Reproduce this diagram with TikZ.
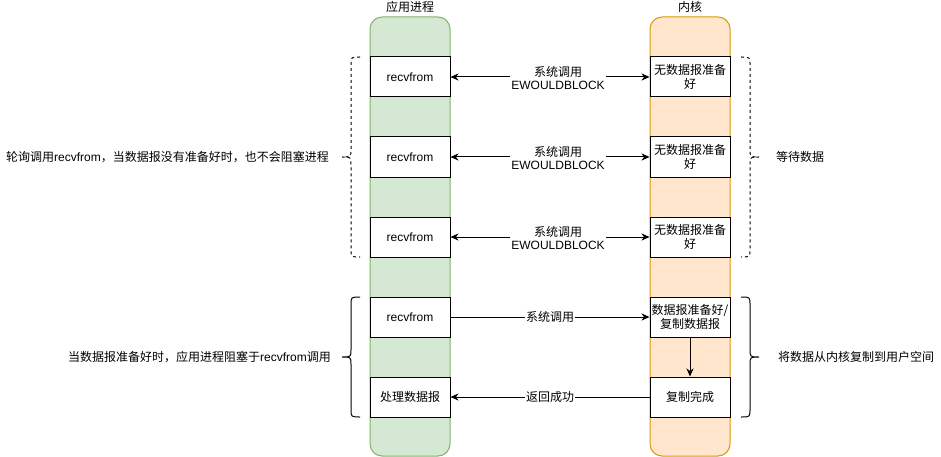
\documentclass[tikz,border=0pt]{standalone}
\usepackage{fontspec}
\setmainfont{Liberation Sans}
\newfontfamily\cjk{Noto Sans CJK SC}
\newcommand\zh[1]{{\cjk #1}}
\usetikzlibrary{arrows.meta}
\definecolor{gfill}{HTML}{D5E8D4}
\definecolor{gline}{HTML}{82B366}
\definecolor{ofill}{HTML}{FFE6CC}
\definecolor{oline}{HTML}{D79B00}
\begin{document}
\begin{tikzpicture}[x=1pt,y=-1pt, font=\fontsize{12}{14}\selectfont,
  col/.style={draw, rounded corners=12pt, minimum width=80pt, minimum height=439pt, line width=1pt, inner sep=0pt},
  box/.style={draw, fill=white, minimum width=80pt, minimum height=40pt, inner sep=1pt, align=center, line width=1pt, font=\fontsize{12}{14}\selectfont},
  arr/.style={-{Stealth[length=8pt,width=7pt,inset=2.5pt]}, line width=1pt},
  darr/.style={{Stealth[length=8pt,width=7pt,inset=2.5pt]}-{Stealth[length=8pt,width=7pt,inset=2.5pt]}, line width=1pt},
  lbl/.style={fill=white, inner sep=1pt, align=center, font=\fontsize{12}{13.5}\selectfont},
  brace/.style={line width=1pt},
  side/.style={inner sep=0pt, font=\fontsize{12}{14}\selectfont}]
\useasboundingbox (0,0) rectangle (941,457);

% titles
\node[inner sep=0pt] (tapp) at (410,7) {\zh{应用进程}};
\node[inner sep=0pt] (tker) at (690,7) {\zh{内核}};

% columns
\node[col, fill=gfill, draw=gline] (capp) at (410,236.5) {};
\node[col, fill=ofill, draw=oline] (cker) at (690,236.5) {};

% app boxes
\node[box] (a1) at (410,77) {recvfrom};
\node[box] (a2) at (410,157) {recvfrom};
\node[box] (a3) at (410,237) {recvfrom};
\node[box] (a4) at (410,317) {recvfrom};
\node[box] (a5) at (410,397) {\zh{处理数据报}};

% kernel boxes
\node[box] (k1) at (690,77) {\zh{无数据报准备}\\\zh{好}};
\node[box] (k2) at (690,157) {\zh{无数据报准备}\\\zh{好}};
\node[box] (k3) at (690,237) {\zh{无数据报准备}\\\zh{好}};
\node[box] (k4) at (690,317) {\zh{数据报准备好/}\\\zh{复制数据报}};
\node[box] (k5) at (690,397) {\zh{复制完成}};

% connectors
\draw[darr] (a1) -- (k1);
\draw[darr] (a2) -- (k2);
\draw[darr] (a3) -- (k3);
\node[lbl] (l1) at (558,78) {\zh{系统调用}\\EWOULDBLOCK};
\node[lbl] (l2) at (558,158) {\zh{系统调用}\\EWOULDBLOCK};
\node[lbl] (l3) at (558,238) {\zh{系统调用}\\EWOULDBLOCK};

\draw[arr] (a4) -- node[lbl] (l4) {\zh{系统调用}} (k4);
\draw[arr] (k5) -- node[lbl] (l5) {\zh{返回成功}} (a5);
\draw[arr] (k4) -- (k5);

% left dashed brace
\draw[brace, dashed, dash pattern=on 3pt off 3pt]
  (360,57) .. controls (351,57) .. (351,65) -- (351,149)
  .. controls (351,157) .. (342,157) .. controls (351,157) .. (351,165)
  -- (351,249) .. controls (351,257) .. (360,257);
% right dashed brace
\draw[brace, dashed, dash pattern=on 3pt off 3pt]
  (741,57) .. controls (750,57) .. (750,65) -- (750,149)
  .. controls (750,157) .. (759,157) .. controls (750,157) .. (750,165)
  -- (750,249) .. controls (750,257) .. (741,257);
% left solid brace
\draw[brace]
  (360,297) .. controls (351,297) .. (351,305) -- (351,349)
  .. controls (351,357) .. (342,357) .. controls (351,357) .. (351,365)
  -- (351,409) .. controls (351,417) .. (360,417);
% right solid brace
\draw[brace]
  (741,297) .. controls (750,297) .. (750,305) -- (750,349)
  .. controls (750,357) .. (759,357) .. controls (750,357) .. (750,365)
  -- (750,409) .. controls (750,417) .. (741,417);

% side texts
\node[side, anchor=east] (s1) at (329,157) {\zh{轮询调用}recvfrom\zh{，当数据报没有准备好时，也不会阻塞进程}};
\node[side, anchor=west] (s2) at (776,157) {\zh{等待数据}};
\node[side, anchor=east] (s3) at (331,357) {\zh{当数据报准备好时，应用进程阻塞于}recvfrom\zh{调用}};
\node[side, anchor=west] (s4) at (778,357) {\zh{将数据从内核复制到用户空间}};
\end{tikzpicture}
\end{document}
